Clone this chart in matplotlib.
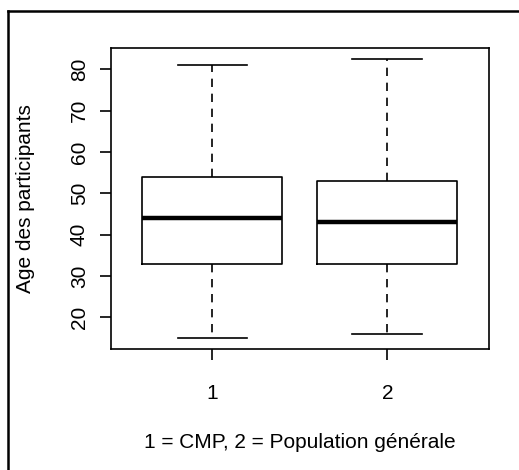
import matplotlib
matplotlib.use('Agg')
import matplotlib.pyplot as plt
from matplotlib.lines import Line2D

# boxplot stats
groups = ['1', '2']
whisk_lo = [15.0, 16.0]
q1 = [33.0, 33.0]
medians = [44.0, 43.0]
q3 = [54.0, 53.0]
whisk_hi = [81.0, 82.5]

xlabel = '1 = CMP, 2 = Population générale'
ylabel = 'Age des participants'
yticks = [20, 30, 40, 50, 60, 70, 80]

plt.rcParams['font.family'] = ['Liberation Sans', 'DejaVu Sans']

fig = plt.figure(figsize=(5.19, 4.70), dpi=100)
ax = fig.add_axes([111 / 519, 1 - 349 / 470, 378 / 519, 301 / 470])

stats = []
for i in range(len(groups)):
    stats.append(dict(whislo=whisk_lo[i], q1=q1[i], med=medians[i], q3=q3[i],
                      whishi=whisk_hi[i], fliers=[], label=groups[i]))

lw = 1.2
ax.bxp(stats, positions=[1, 2], widths=0.8, showfliers=False,
       boxprops=dict(color='black', linewidth=lw),
       medianprops=dict(color='black', linewidth=3.2, solid_capstyle='butt'),
       whiskerprops=dict(color='black', linewidth=lw, linestyle=(0, (5, 4))),
       capprops=dict(color='black', linewidth=lw), capwidths=0.4)

lo = min(whisk_lo)
hi = max(whisk_hi)
r = hi - lo
ax.set_ylim(lo - 0.04 * r, hi + 0.04 * r)
ax.set_xlim(0.5 - 0.08, 2.5 + 0.08)

ax.set_yticks(yticks)
ax.set_yticklabels([str(t) for t in yticks], rotation=90, va='center')
ax.set_xticks([1, 2])
ax.set_xticklabels(groups)

fs = 15
ax.tick_params(axis='both', length=8, width=lw, labelsize=fs, color='black')
ax.tick_params(axis='y', pad=8)
ax.tick_params(axis='x', pad=17)
for s in ax.spines.values():
    s.set_linewidth(lw)

ax.set_xlabel(xlabel, fontsize=fs, va='center')
ax.xaxis.set_label_coords(0.5, (349 - 442) / 301)
ax.set_ylabel(ylabel, fontsize=fs, va='center')
ax.yaxis.set_label_coords((25 - 111) / 378, 0.5)

# outer frame (top and left edges visible)
fig.add_artist(Line2D([8 / 519, 8 / 519], [0, 1 - 11 / 470], color='black', linewidth=1.8,
                      transform=fig.transFigure))
fig.add_artist(Line2D([8 / 519, 1], [1 - 11 / 470, 1 - 11 / 470], color='black', linewidth=1.8,
                      transform=fig.transFigure))

fig.savefig('out.png', dpi=100)
